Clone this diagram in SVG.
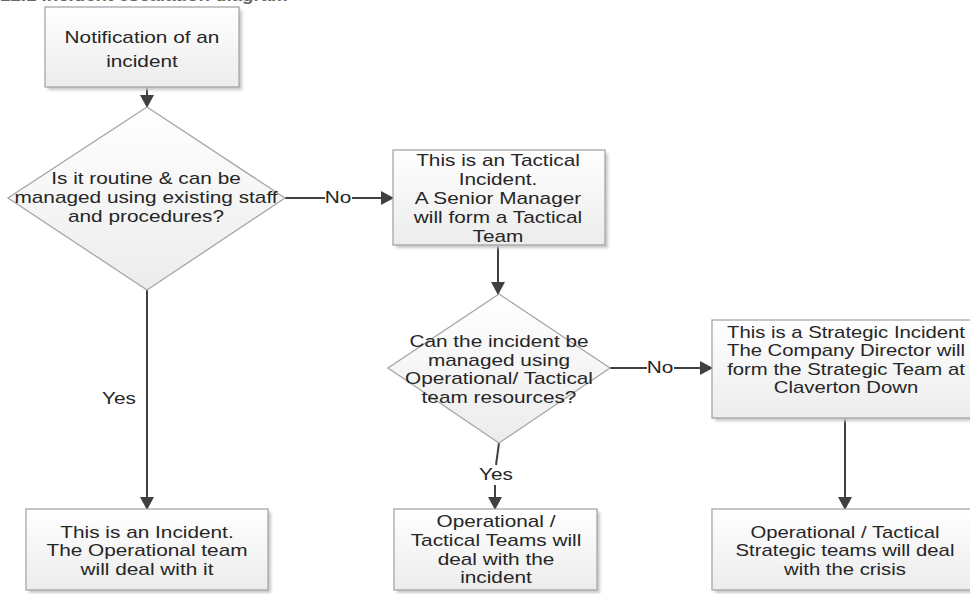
<svg xmlns="http://www.w3.org/2000/svg" width="970" height="594" viewBox="0 0 970 594">
<style>
.box{fill:url(#g);stroke:#a6a6a6;stroke-width:1.3}
.sh{fill:#c8c8c8;filter:url(#blur)}
.t{font-family:"Liberation Sans",Arial,sans-serif;font-size:16px;fill:#262626;text-anchor:middle}
.c{stroke:#404040;stroke-width:2;fill:none}
.title{font-family:"Liberation Sans",Arial,sans-serif;font-size:17px;font-weight:bold;fill:#666}
</style>
<defs>
<linearGradient id="g" x1="0" y1="0" x2="0" y2="1">
<stop offset="0" stop-color="#ffffff"/>
<stop offset="1" stop-color="#ececec"/>
</linearGradient>
<filter id="blur" x="-10%" y="-10%" width="130%" height="130%"><feGaussianBlur stdDeviation="1.5"/></filter>
<marker id="ah" markerWidth="14" markerHeight="14" refX="12" refY="7" orient="auto" markerUnits="userSpaceOnUse">
<path d="M0,0 L13,7 L0,14 Z" fill="#404040"/>
</marker>
</defs>
<rect width="970" height="594" fill="#ffffff"/>
<text class="title" x="0" y="1" transform="matrix(1.1,0,0,1,0,0)">12.1    Incident escalation diagram</text>

<g id="connectors">
<line class="c" x1="147" y1="87" x2="147" y2="107" marker-end="url(#ah)"/>
<line class="c" x1="285" y1="198" x2="325" y2="198"/>
<line class="c" x1="352" y1="198" x2="393" y2="198" marker-end="url(#ah)"/>
<text class="t" x="338" y="203.5" transform="matrix(1.3,0,0,1,-101.4,0)">No</text>
<line class="c" x1="147" y1="290" x2="147" y2="509" marker-end="url(#ah)"/>
<text class="t" x="119" y="404" transform="matrix(1.3,0,0,1,-35.7,0)">Yes</text>
<line class="c" x1="498" y1="245" x2="498" y2="294" marker-end="url(#ah)"/>
<line class="c" x1="610" y1="368" x2="647" y2="368"/>
<line class="c" x1="674" y1="368" x2="712" y2="368" marker-end="url(#ah)"/>
<text class="t" x="660" y="373.5" transform="matrix(1.3,0,0,1,-198,0)">No</text>
<line class="c" x1="499" y1="443" x2="496" y2="465"/>
<text class="t" x="496" y="480" transform="matrix(1.3,0,0,1,-148.8,0)">Yes</text>
<line class="c" x1="495" y1="485" x2="495" y2="509" marker-end="url(#ah)"/>
<line class="c" x1="845" y1="418" x2="845" y2="509" marker-end="url(#ah)"/>
</g>

<g id="n1">
<rect class="sh" x="48" y="10" width="194" height="80"/>
<rect class="box" x="45" y="7" width="194" height="80"/>
<g transform="matrix(1.3,0,0,1,-42.6,0)">
<text class="t" x="142" y="43">Notification of an</text>
<text class="t" x="142" y="67">incident</text>
</g>
</g>

<g id="d1">
<polygon class="box" points="147,107 285,198 147,290 8,198"/>
<g transform="matrix(1.3,0,0,1,-43.8,0)">
<text class="t" x="146" y="184.5">Is it routine &amp; can be</text>
<text class="t" x="146" y="203.5">managed using existing staff</text>
<text class="t" x="146" y="222.5">and procedures?</text>
</g>
</g>

<g id="n2">
<rect class="sh" x="396" y="153" width="212" height="95"/>
<rect class="box" x="393" y="150" width="212" height="95"/>
<g transform="matrix(1.3,0,0,1,-149.4,0)">
<text class="t" x="498" y="166">This is an Tactical</text>
<text class="t" x="498" y="185">Incident.</text>
<text class="t" x="498" y="204">A Senior Manager</text>
<text class="t" x="498" y="223">will form a Tactical</text>
<text class="t" x="498" y="242">Team</text>
</g>
</g>

<g id="d2">
<polygon class="box" points="499,294 610,368 499,443 388,368"/>
<g transform="matrix(1.3,0,0,1,-149.7,0)">
<text class="t" x="499" y="347.5">Can the incident be</text>
<text class="t" x="499" y="366">managed using</text>
<text class="t" x="499" y="384.5">Operational/ Tactical</text>
<text class="t" x="499" y="403">team resources?</text>
</g>
</g>

<g id="n3">
<rect class="sh" x="715" y="323" width="270" height="98"/>
<rect class="box" x="712" y="320" width="270" height="98"/>
<g transform="matrix(1.27,0,0,1,-228.42,0)">
<text class="t" x="846" y="338">This is a Strategic Incident</text>
<text class="t" x="846" y="356.5">The Company Director will</text>
<text class="t" x="846" y="375">form the Strategic Team at</text>
<text class="t" x="846" y="393.5">Claverton Down</text>
</g>
</g>

<g id="n4">
<rect class="sh" x="29" y="512" width="242" height="81"/>
<rect class="box" x="26" y="509" width="242" height="81"/>
<g transform="matrix(1.3,0,0,1,-44.1,0)">
<text class="t" x="147" y="538">This is an Incident.</text>
<text class="t" x="147" y="556.5">The Operational team</text>
<text class="t" x="147" y="575">will deal with it</text>
</g>
</g>

<g id="n5">
<rect class="sh" x="397" y="512" width="203" height="81"/>
<rect class="box" x="394" y="509" width="203" height="81"/>
<g transform="matrix(1.3,0,0,1,-148.8,0)">
<text class="t" x="496" y="527.5">Operational /</text>
<text class="t" x="496" y="546.5">Tactical Teams will</text>
<text class="t" x="496" y="565">deal with the</text>
<text class="t" x="496" y="583.5">incident</text>
</g>
</g>

<g id="n6">
<rect class="sh" x="715" y="512" width="270" height="81"/>
<rect class="box" x="712" y="509" width="270" height="81"/>
<g transform="matrix(1.27,0,0,1,-228.15,0)">
<text class="t" x="845" y="538">Operational / Tactical</text>
<text class="t" x="845" y="556.5">Strategic teams will deal</text>
<text class="t" x="845" y="575">with the crisis</text>
</g>
</g>
</svg>
